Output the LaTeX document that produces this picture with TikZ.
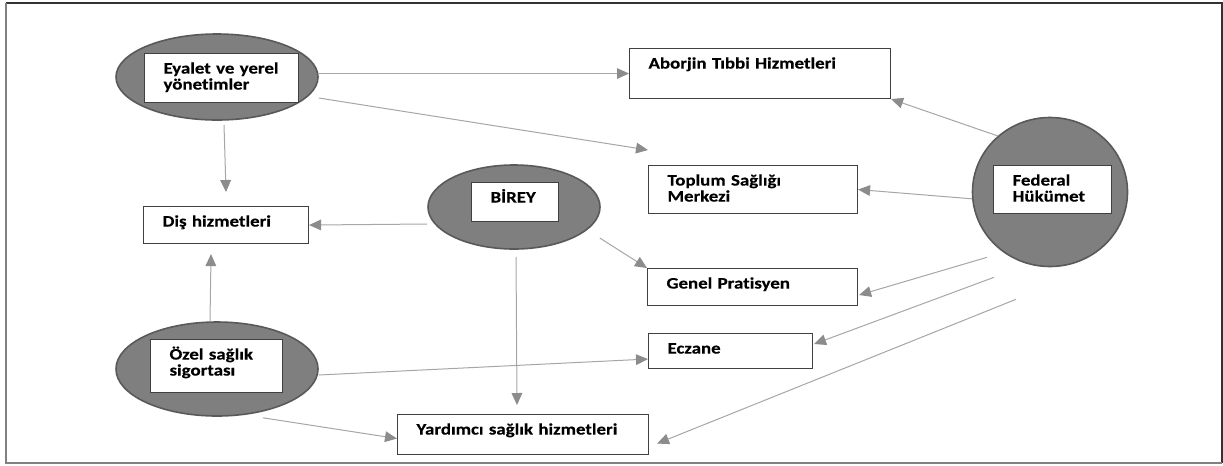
\documentclass[tikz,border=0pt]{standalone}
\usepackage{fontspec}
\setmainfont[FakeStretch=1.18, Ligatures=NoCommon, BoldFeatures={FakeBold=0.3}]{Carlito}
\usetikzlibrary{positioning, arrows.meta}
\usetikzlibrary{calc, shapes.geometric}

\definecolor{ovalgray}{HTML}{7F7F7F}
\definecolor{ovaledge}{HTML}{595959}
\definecolor{linegray}{HTML}{A6A6A6}
\definecolor{headgray}{HTML}{8C8C8C}
\definecolor{boxedge}{HTML}{404040}

\begin{document}
\begin{tikzpicture}[
    x=0.75pt, y=-0.75pt,
    oval/.style={ellipse, draw=ovaledge, line width=1.2pt, fill=ovalgray},
    block/.style={rectangle, draw=boxedge, fill=white, line width=0.8pt, anchor=north west, align=left, inner xsep=14.25pt, inner ysep=0pt, text height=15pt, font=\fontsize{12}{12}\selectfont\bfseries},
    arrow/.style={draw=linegray, line width=0.75pt, -{Triangle[length=9pt, width=8pt, color=headgray]}}
  ]
  \useasboundingbox (0,0) rectangle (1223,465);

  % Frame
  \draw[line width=1.5pt, black!80] (6,3) -- (1222,3) -- (1222,463);
  \draw[line width=1.5pt, gray] (6,3) -- (6,463) -- (1222,463);

  % Ovals
  \node[oval, minimum width=151.5pt, minimum height=64.5pt] (eyalet) at (217,77) {};
  \node[oval, minimum width=129pt, minimum height=63pt] (birey) at (514,207) {};
  \node[oval, minimum width=151.5pt, minimum height=70.5pt] (ozel) at (217,369) {};
  \node[oval, minimum width=116.25pt, minimum height=111.75pt] (fed) at (1050,192) {};

  % Labels inside the ovals (width = text width + 28.5pt)
  \node[block, text width=87pt, text depth=21.75pt] (eyaletlbl) at (144,53) {Eyalet ve yerel\\yönetimler};
  \node[block, text width=36.75pt, text depth=14.25pt] (bireylbl) at (471,182) {BİREY};
  \node[block, text width=70.5pt, text depth=24.75pt] (ozellbl) at (150,339) {Özel sağlık\\sigortası};
  \node[block, text width=60pt, text depth=21pt] (fedlbl) at (993,165) {Federal\\Hükümet};

  % Services
  \node[block, text width=167.25pt, text depth=22.5pt] (aborjin) at (629,48) {Aborjin Tıbbi Hizmetleri};
  \node[block, text width=128.25pt, text depth=21pt] (toplum) at (648,165) {Toplum Sağlığı\\Merkezi};
  \node[block, text width=95.25pt, text depth=12.75pt] (dis) at (143,206) {Diş hizmetleri};
  \node[block, text width=129pt, text depth=12.75pt] (gp) at (647,268) {Genel Pratisyen};
  \node[block, text width=94.5pt, text depth=11.25pt] (eczane) at (648,333) {Eczane};
  \node[block, text width=159.75pt, text depth=15pt] (yard) at (397,414) {Yardımcı sağlık hizmetleri};

  % Arrows
  \draw[arrow] (eyalet.east |- aborjin.west) -- (aborjin.west);
  \draw[arrow] ($(eyalet.east)+(0,21)$) -- ($(toplum.north west)+(0,-15)$);
  \draw[arrow] ($(eyalet.south)+(7,4)$) -- ($(dis.north)+(0,-14)$);
  \draw[arrow] ($(birey.west)+(0,17)$) -- (dis.east);
  \draw[arrow] ($(birey.east)+(-1,31)$) -- (gp.north west);
  \draw[arrow] ($(birey.south)+(2,7)$) -- ($(birey.south |- yard.north)+(3,-9)$);
  \draw[arrow] ($(ozel.north)+(-7,0)$) -- ($(dis.south)+(-15,10)$);
  \draw[arrow] ($(ozel.east)+(0,6)$) -- ($(eczane.west)+(0,8)$);
  \draw[arrow] ($(ozel.south)+(46,1)$) -- ($(yard.west)+(0,4)$);
  \draw[arrow] (fed.133) -- (aborjin.south east);
  \draw[arrow] (fed.185) -- (toplum.east);
  \draw[arrow] ($(fed.south)+(-63,-10)$) -- ($(gp.east)+(1,8)$);
  \draw[arrow] ($(fed.south)+(-56,10)$) -- ($(eczane.east)+(1,-7)$);
  \draw[arrow] ($(fed.south)+(-34,32)$) -- ($(yard.east)+(8,9)$);

\end{tikzpicture}
\end{document}
